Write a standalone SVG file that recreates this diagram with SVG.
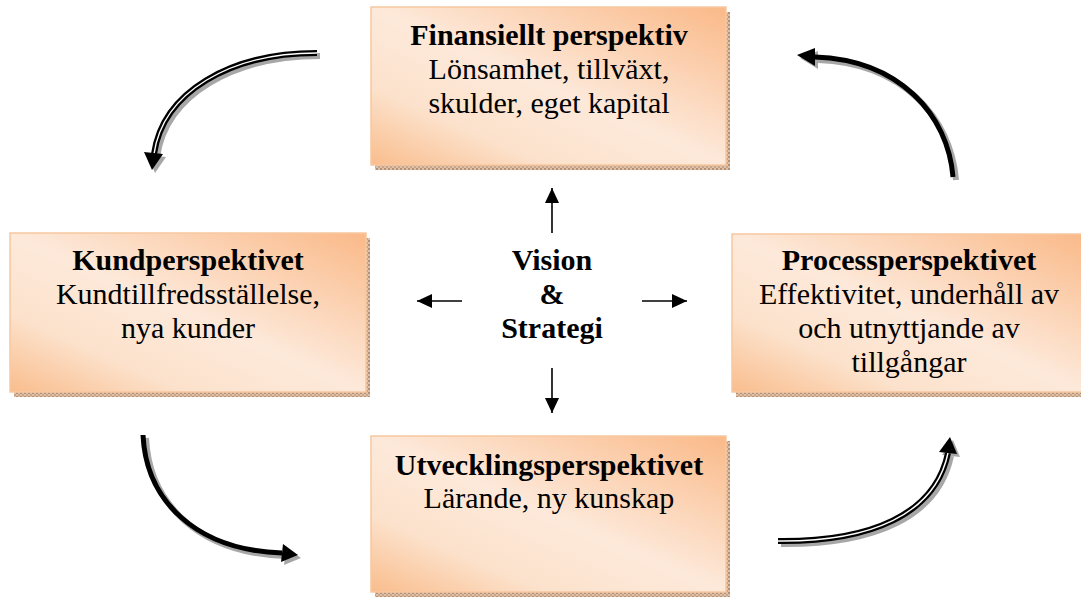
<svg xmlns="http://www.w3.org/2000/svg" width="1081" height="597" viewBox="0 0 1081 597">
  <defs>
    <linearGradient id="boxFill" x1="1" y1="0" x2="0" y2="1">
      <stop offset="0" stop-color="#FAB988"/>
      <stop offset="0.5" stop-color="#FDE9DA"/>
      <stop offset="0.75" stop-color="#FCE2CC"/>
      <stop offset="1" stop-color="#F9BD8D"/>
    </linearGradient>
    <pattern id="dots" width="4" height="4" patternUnits="userSpaceOnUse">
      <rect width="4" height="4" fill="#DCC2AC"/>
      <rect width="2" height="2" fill="#B8906F"/>
      <rect x="2" y="2" width="2" height="2" fill="#C9A486"/>
    </pattern>
    <marker id="head" viewBox="0 0 15 14" refX="15" refY="7" markerWidth="15" markerHeight="14" markerUnits="userSpaceOnUse" orient="auto">
      <path d="M0,0 L15,7 L0,14 z" fill="#000"/>
    </marker>
  </defs>
  <style>
    .box { fill: url(#boxFill); stroke: #F8C7A0; stroke-width: 1.5; }
    .shadow { fill: url(#dots); }
    text { font-family: "Liberation Serif", "DejaVu Serif", serif; font-size: 30px; fill: #000; text-anchor: middle; }
    .b { font-weight: bold; }
    .arrow-shadow { fill: none; stroke: #8a8a8a; stroke-width: 6; stroke-linecap: butt; opacity: 0.75; }
    .arrow-body { fill: none; stroke: #000; stroke-width: 6; }
    .arrow-thin { fill: none; stroke: #000; stroke-width: 5; }
    .arrow-core { fill: none; stroke: #fff; stroke-width: 1.4; }
    .head-shadow { fill: #8a8a8a; opacity: 0.75; }
    .straight { stroke: #000; stroke-width: 1.6; fill: none; marker-end: url(#head); }
  </style>

  <!-- Perspective boxes -->
  <g id="finansiellt">
    <rect class="shadow" x="375" y="12" width="355" height="158"/>
    <rect class="box" x="371" y="7" width="355" height="158"/>
    <text class="b" x="549" y="45">Finansiellt perspektiv</text>
    <text x="549" y="79">Lönsamhet, tillväxt,</text>
    <text x="549" y="113">skulder, eget kapital</text>
  </g>

  <g id="kund">
    <rect class="shadow" x="14" y="238" width="356" height="159"/>
    <rect class="box" x="10" y="233" width="356" height="159"/>
    <text class="b" x="188" y="270">Kundperspektivet</text>
    <text x="188" y="304">Kundtillfredsställelse,</text>
    <text x="188" y="338">nya kunder</text>
  </g>

  <g id="process">
    <rect class="shadow" x="736" y="239" width="355" height="158"/>
    <rect class="box" x="732" y="234" width="355" height="158"/>
    <text class="b" x="909" y="270">Processperspektivet</text>
    <text x="909" y="304">Effektivitet, underhåll av</text>
    <text x="909" y="338">och utnyttjande av</text>
    <text x="909" y="372">tillgångar</text>
  </g>

  <g id="utveckling">
    <rect class="shadow" x="375" y="441" width="355" height="156"/>
    <rect class="box" x="371" y="436" width="355" height="156"/>
    <text class="b" x="549" y="475">Utvecklingsperspektivet</text>
    <text x="549" y="508">Lärande, ny kunskap</text>
  </g>

  <g id="vision">
    <text class="b" x="552" y="270">Vision</text>
    <text class="b" x="552" y="304">&amp;</text>
    <text class="b" x="552" y="338">Strategi</text>
  </g>

  <!-- Connectors -->
  <g id="connectors">
    <!-- centre to boxes -->
    <line class="straight" x1="552" y1="233" x2="552" y2="188"/>
    <line class="straight" x1="462" y1="301" x2="417" y2="301"/>
    <line class="straight" x1="642" y1="301" x2="687" y2="301"/>
    <line class="straight" x1="552" y1="368" x2="552" y2="413"/>

    <!-- curved cycle arrows: shadow, body, core -->
    <g transform="translate(3,3)">
      <path class="arrow-shadow" d="M317,53 C230,53 163,92 154,154"/>
      <polygon class="head-shadow" points="144,152 163,154 152,170"/>
      <path class="arrow-shadow" d="M953,177 C948,115 900,60 815,57"/>
      <polygon class="head-shadow" points="815,48 815,66 797,55"/>
      <path class="arrow-shadow" d="M143,435 C146,500 195,550 282,553"/>
      <polygon class="head-shadow" points="283,544 281,562 298,555"/>
      <path class="arrow-shadow" d="M778,541 C870,542 935,515 948,453"/>
      <polygon class="head-shadow" points="939,452 957,454 950,437"/>
    </g>

    <path class="arrow-body" d="M317,53 C230,53 163,92 154,154"/>
    <path class="arrow-core" d="M317,53 C230,53 163,92 154,154"/>
    <polygon points="144,152 163,154 152,170" fill="#000"/>

    <path class="arrow-thin" d="M953,177 C948,115 900,60 815,57"/>
    <polygon points="815,48 815,66 797,55" fill="#000"/>

    <path class="arrow-thin" d="M143,435 C146,500 195,550 282,553"/>
    <polygon points="283,544 281,562 298,555" fill="#000"/>

    <path class="arrow-body" d="M778,541 C870,542 935,515 948,453"/>
    <path class="arrow-core" d="M778,541 C870,542 935,515 948,453"/>
    <polygon points="939,452 957,454 950,437" fill="#000"/>
  </g>
</svg>
